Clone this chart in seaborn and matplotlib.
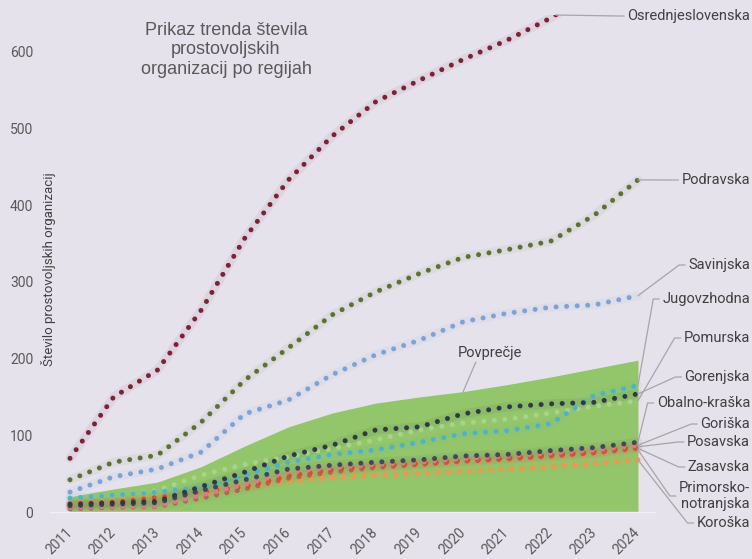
import matplotlib
matplotlib.use("Agg")
import numpy as np
import matplotlib.pyplot as plt
from matplotlib.lines import Line2D
import seaborn as sns

# ---- data ----
years = list(range(2011, 2025))

osrednjeslovenska = [70, 150, 185, 263, 357, 433, 490, 535, 563, 590, 615, 644, 680, 710]
podravska = [42, 65, 74, 117, 172, 214, 257, 287, 311, 332, 342, 353, 387, 433]
savinjska = [26, 46, 56, 78, 128, 146, 179, 205, 224, 248, 259, 267, 270, 282]
jugovzhodna = [18, 22, 26, 32, 48, 65, 75, 81, 91, 102, 106, 115, 152, 165]
pomurska = [18, 22, 28, 48, 62, 72, 83, 94, 107, 116, 121, 129, 138, 145]
gorenjska = [10, 12, 14, 33, 52, 73, 87, 107, 111, 128, 137, 141, 143, 154]
obalno_kraska = [8, 10, 12, 28, 42, 56, 61, 65, 68, 73, 75, 80, 84, 91]
goriska = [6, 7, 8, 22, 36, 52, 58, 62, 65, 70, 73, 77, 81, 87]
posavska = [11, 13, 19, 26, 33, 47, 55, 60, 63, 67, 70, 74, 78, 85]
zasavska = [4, 6, 7, 18, 30, 44, 52, 58, 62, 66, 69, 73, 77, 83]
primorsko_notranjska = [9, 12, 16, 24, 34, 45, 53, 58, 61, 65, 68, 71, 75, 81]
koroska = [12, 15, 20, 25, 32, 40, 45, 48, 50, 53, 56, 59, 63, 68]
povprecje = [20, 30, 39, 59, 86, 111, 129, 142, 150, 157, 166, 176, 187, 198]

# name, values, colour, label centre y (pixels from top of image)
series = [
    ("Osrednjeslovenska", osrednjeslovenska, "#7B2335", 16),
    ("Podravska", podravska, "#5E7135", 180),
    ("Savinjska", savinjska, "#7EA3D3", 265),
    ("Koroška", koroska, "#F4944F", 523),
    ("Primorsko-\nnotranjska", primorsko_notranjska, "#E48A6C", 496),
    ("Zasavska", zasavska, "#A86B55", 467),
    ("Posavska", posavska, "#C9562C", 442),
    ("Goriška", goriska, "#D97E86", 424),
    ("Pomurska", pomurska, "#A8D48A", 338),
    ("Jugovzhodna", jugovzhodna, "#4DB3C8", 299),
    ("Obalno-kraška", obalno_kraska, "#3F4A57", 403),
    ("Gorenjska", gorenjska, "#2F3A47", 377),
]

BG = "#E5E2EC"
AREA = "#93C56A"
GREY_TXT = "#595959"
DARK_TXT = "#404040"
LEADER = "#A6A6A6"
W, H = 752, 559
YMAX = 648


def fig_frac(px, py):
    # image pixels (from top-left) -> figure fraction
    return px / W, 1 - py / H


sns.set_theme(style="white")
plt.rcParams["font.family"] = ["Roboto", "DejaVu Sans"]

fig = plt.figure(figsize=(W / 100, H / 100), dpi=100, facecolor=BG)
ax = fig.add_axes([50 / W, 1 - 512 / H, 605 / W, 497 / H])
ax.set_facecolor(BG)

# average as green area
ax.fill_between(years, povprecje, color=AREA, lw=0, zorder=1)

for name, vals, col, _ in series:
    sns.lineplot(x=years, y=vals, ax=ax, color=col, lw=6.5, alpha=0.07, zorder=2)
    sns.lineplot(x=years, y=vals, ax=ax, color=col, lw=3.6,
                 linestyle=(0, (0.01, 2.1)), dash_capstyle="round", zorder=3)

ax.set_xlim(2010.542, 2024.39)
ax.set_ylim(0, YMAX)
ax.set_xticks(years)
ax.set_xticklabels([str(y) for y in years])
ax.set_yticks(range(0, 700, 100))
ax.tick_params(axis="both", length=0, labelcolor=GREY_TXT, labelsize=10)
ax.tick_params(axis="y", pad=12)
ax.tick_params(axis="x", pad=13)
plt.setp(ax.get_xticklabels(), rotation=45, ha="right", va="center",
         rotation_mode="anchor")
for s in ["top", "right", "left"]:
    ax.spines[s].set_visible(False)
ax.spines["bottom"].set_color("#F1EFF5")
ax.spines["bottom"].set_linewidth(1.0)
ax.set_xlabel("")
ax.set_ylabel("Število prostovoljskih organizacij", fontsize=9.5, color=DARK_TXT)
ax.yaxis.set_label_coords(0.01, 0.489)

# title
tx, ty = fig_frac(226, 50)
fig.text(tx, ty, "Prikaz trenda števila\nprostovoljskih\norganizacij po regijah",
         ha="center", va="center", fontsize=13, color=GREY_TXT,
         family=["Liberation Sans", "DejaVu Sans"], linespacing=1.2)

# right-hand labels
labels = []
for name, vals, col, ly in series:
    x, y = fig_frac(750, ly)
    t = fig.text(x, y, name, ha="right", va="center", fontsize=10.5,
                 color=DARK_TXT, multialignment="right", linespacing=1.1)
    labels.append((t, vals, ly))

# average label
px, py = fig_frac(490, 353)
pov_txt = fig.text(px, py, "Povprečje", ha="center", va="center",
                   fontsize=10.5, color=DARK_TXT)

fig.canvas.draw()
to_fig = fig.transFigure.inverted()


def leader(p_data_disp, corner_disp, end_disp):
    pts = to_fig.transform([p_data_disp, corner_disp, end_disp])
    fig.add_artist(Line2D(pts[:, 0], pts[:, 1], transform=fig.transFigure,
                          color=LEADER, lw=0.9, zorder=5))


for t, vals, ly in labels:
    bb = t.get_window_extent()
    ty_disp = H - ly
    if vals[-1] > YMAX:
        # line leaves the plot at the top: attach leader where it crosses
        xcross = np.interp(YMAX, vals, years)
        pdata = ax.transData.transform((xcross, YMAX))
    else:
        pdata = ax.transData.transform((years[-1], vals[-1]))
    end = (bb.x0 - 3, ty_disp)
    corner = (bb.x0 - 9, ty_disp)
    leader(pdata, corner, end)

# leader for the average
pdata = ax.transData.transform((2020, povprecje[years.index(2020)]))
bb = pov_txt.get_window_extent()
top = (bb.x0 + 18, bb.y0 - 2)
fig.add_artist(Line2D(*to_fig.transform([pdata, top]).T, transform=fig.transFigure,
                      color=LEADER, lw=0.9))

fig.savefig("out.png", dpi=100, facecolor=BG)
